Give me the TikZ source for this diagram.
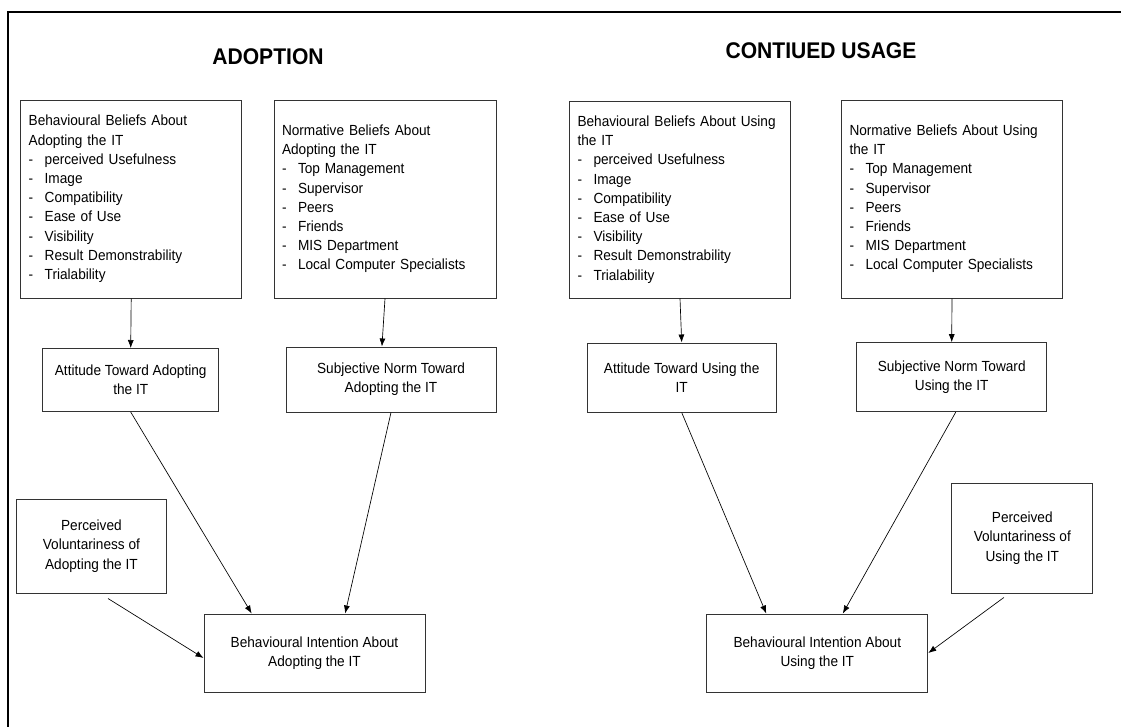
\documentclass[tikz,border=0pt]{standalone}
\usepackage{fontspec}
\setmainfont{Liberation Sans}[FakeStretch=0.93]
\usetikzlibrary{arrows.meta,calc}

\tikzstyle{listbox}=[draw=black!80,line width=0.75pt,align=left,inner xsep=6pt,font=\fontsize{11}{14.4}\selectfont]
\tikzstyle{smallbox}=[draw=black!80,line width=0.75pt,align=center,font=\fontsize{11}{14.4}\selectfont]
\tikzstyle{heading}=[font=\fontsize{17}{20}\selectfont\bfseries]
\tikzstyle{link}=[->,line width=0.5pt]
\tikzset{>={Latex[length=6pt,width=4.5pt]}}
\newcommand{\itm}[1]{\\\makebox[12pt][l]{-}#1}

\begin{document}
\begin{tikzpicture}[x=0.75pt,y=-0.75pt]
  \useasboundingbox (0,0) rectangle (1121,726);
  \draw[line width=1.3pt] (8,12) rectangle (1140,745);

  % Adoption
  \node[heading] (hadopt) at (268,56.5) {ADOPTION};
  \node[listbox,text width=153.75pt,minimum height=148.5pt] (bb1) at (131.2,199) {Behavioural Beliefs About\\Adopting the IT\itm{perceived Usefulness}\itm{Image}\itm{Compatibility}\itm{Ease of Use}\itm{Visibility}\itm{Result Demonstrability}\itm{Trialability}};
  \node[listbox,text width=154.5pt,minimum height=148.5pt] (nb1) at (385,199) {Normative Beliefs About\\Adopting the IT\itm{Top Management}\itm{Supervisor}\itm{Peers}\itm{Friends}\itm{MIS Department}\itm{Local Computer Specialists}};
  \node[smallbox,minimum width=132pt,minimum height=47.25pt] (at1) at (130.7,380) {Attitude Toward Adopting\\the IT};
  \node[smallbox,minimum width=157.5pt,minimum height=48.75pt] (sn1) at (391,379.5) {Subjective Norm Toward\\Adopting the IT};
  \node[smallbox,minimum width=112.5pt,minimum height=70.5pt] (pv1) at (91.4,546) {Perceived\\Voluntariness of\\Adopting the IT};
  \node[smallbox,minimum width=165.75pt,minimum height=58.5pt] (bi1) at (314.5,653) {Behavioural Intention About\\Adopting the IT};

  % Continued usage
  \node[heading] (husage) at (821,51) {CONTIUED USAGE};
  \node[listbox,text width=153.75pt,minimum height=147.75pt] (bb2) at (680,199.5) {Behavioural Beliefs About Using\\the IT\itm{perceived Usefulness}\itm{Image}\itm{Compatibility}\itm{Ease of Use}\itm{Visibility}\itm{Result Demonstrability}\itm{Trialability}};
  \node[listbox,text width=153.75pt,minimum height=148.5pt] (nb2) at (952,199) {Normative Beliefs About Using\\the IT\itm{Top Management}\itm{Supervisor}\itm{Peers}\itm{Friends}\itm{MIS Department}\itm{Local Computer Specialists}};
  \node[smallbox,minimum width=141.75pt,minimum height=51.75pt] (at2) at (681.7,377.5) {Attitude Toward Using the\\IT};
  \node[smallbox,minimum width=142.5pt,minimum height=51.75pt] (sn2) at (951.7,377.2) {Subjective Norm Toward\\Using the IT};
  \node[smallbox,minimum width=105.75pt,minimum height=82.5pt] (pv2) at (1022.3,538) {Perceived\\Voluntariness of\\Using the IT};
  \node[smallbox,minimum width=165.75pt,minimum height=58.5pt] (bi2) at (817.3,653) {Behavioural Intention About\\Using the IT};

  % Arrows
  \draw[link] (bb1.south) -- (at1.north);
  \draw[link] (nb1.south) -- ($(sn1.north west)!0.457!(sn1.north east)$);
  \draw[link] (at1.south) -- ($(bi1.north west)!0.217!(bi1.north east)$);
  \draw[link] (sn1.south) -- ($(bi1.north west)!0.638!(bi1.north east)$);
  \coordinate (pv1out) at ($(pv1.south west)!0.61!(pv1.south east)+(0,5)$);
  \draw[link] (pv1out) -- ($(bi1.west)+(0,5)$);

  \draw[link] (bb2.south) -- (at2.north);
  \draw[link] (nb2.south) -- (sn2.north);
  \draw[link] (at2.south) -- ($(bi2.north west)!0.27!(bi2.north east)$);
  \draw[link] ($(sn2.south)+(4,0)$) -- ($(bi2.north west)!0.615!(bi2.north east)$);
  \coordinate (pv2out) at ($(pv2.south west)!0.37!(pv2.south east)+(0,4)$);
  \draw[link] (pv2out) -- (bi2.east);
\end{tikzpicture}
\end{document}
